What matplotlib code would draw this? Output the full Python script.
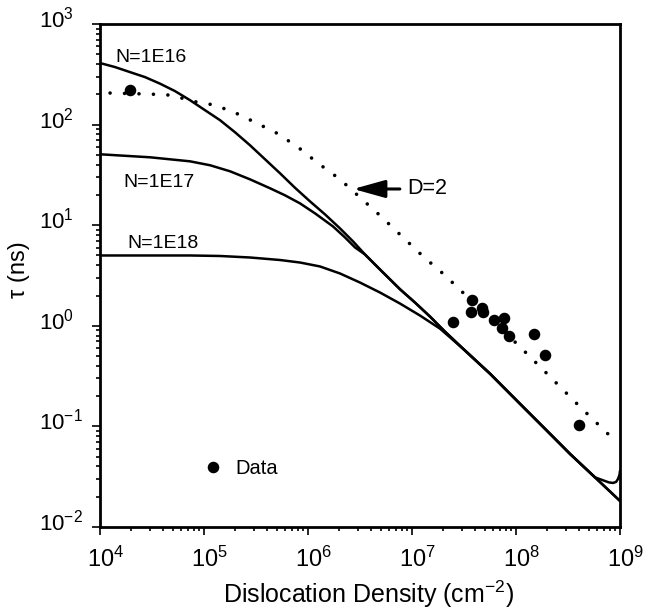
import matplotlib
matplotlib.use("Agg")
import numpy as np
import matplotlib.pyplot as plt
from matplotlib.ticker import LogLocator, NullFormatter

plt.rcParams["font.family"] = ["Liberation Sans", "DejaVu Sans"]
plt.rcParams["lines.scale_dashes"] = False

# Curves given as log10(dislocation density / cm^-2) and log10(tau / ns)
lrho_n16 = [4.000, 4.144, 4.288, 4.433, 4.577, 4.721, 4.865, 5.010, 5.154,
            5.298, 5.442, 5.587, 5.731, 5.875, 6.019, 6.163, 6.308, 6.433,
            6.548, 6.692, 6.885, 7.029, 7.173, 7.317, 7.490, 7.750, 8.038,
            8.279, 8.519, 8.760, 8.827, 8.894, 8.933, 8.962, 8.981, 8.995,
            9.000]
ltau_n16 = [2.612, 2.572, 2.522, 2.472, 2.407, 2.333, 2.243, 2.143, 2.044,
            1.924, 1.795, 1.655, 1.516, 1.372, 1.237, 1.108, 0.968, 0.839,
            0.709, 0.560, 0.363, 0.231, 0.092, -0.058, -0.227, -0.476, -0.775,
            -1.024, -1.273, -1.507, -1.532, -1.557, -1.562, -1.552, -1.522,
            -1.482, -1.442]

lrho_n17 = [4.000, 4.240, 4.481, 4.673, 4.865, 5.058, 5.250, 5.442, 5.635,
            5.779, 5.923, 6.067, 6.240, 6.356, 6.452, 6.548, 6.692, 6.885,
            7.029, 7.173, 7.317, 7.490, 7.750, 8.038, 8.279, 8.519, 8.760,
            9.000]
ltau_n17 = [1.705, 1.690, 1.675, 1.655, 1.635, 1.596, 1.536, 1.456, 1.367,
            1.297, 1.217, 1.118, 0.988, 0.878, 0.779, 0.709, 0.560, 0.363,
            0.231, 0.092, -0.058, -0.227, -0.476, -0.775, -1.024, -1.273,
            -1.507, -1.741]

lrho_n18 = [4.000, 4.288, 4.577, 4.865, 5.154, 5.442, 5.731, 5.923, 6.115,
            6.308, 6.500, 6.692, 6.885, 7.077, 7.269, 7.490, 7.750, 8.038,
            8.279, 8.519, 8.760, 9.000]
ltau_n18 = [0.699, 0.699, 0.699, 0.699, 0.694, 0.679, 0.654, 0.629, 0.590,
            0.520, 0.430, 0.331, 0.221, 0.102, -0.028, -0.227, -0.476, -0.775,
            -1.024, -1.273, -1.507, -1.741]

# Diffusion-limited curve, D = 2 (plotted in linear units)
rho_d2 = [1.25e4, 3.03e4, 4.92e4, 7.67e4, 1.28e5, 2.03e5, 3.24e5, 5.04e5, 8.02e5,
          1.25e6, 2.03e6, 3.16e6, 4.92e6, 8.02e6, 1.28e7, 2.03e7, 3.16e7, 1.04e8,
          2.03e8, 4.04e8, 7.83e8]
tau_d2 = [206, 201, 196, 171, 156, 130, 103, 82.0, 59.6,
          41.3, 28.6, 18.9, 12.5, 7.73, 4.89, 3.24, 2.09, 0.650,
          0.327, 0.160, 0.0824]

# Measured lifetimes
data_rho = [1.94e4, 2.46e7, 3.80e7, 3.66e7, 4.68e7, 4.85e7, 6.18e7, 7.62e7, 7.29e7,
            8.63e7, 1.50e8, 1.90e8, 4.01e8]
data_tau = [220, 1.10, 1.81, 1.38, 1.51, 1.36, 1.15, 1.19, 0.944,
            0.785, 0.822, 0.513, 0.103]

x_ticks = [1e4, 1e5, 1e6, 1e7, 1e8, 1e9]
x_ticklabels = ["4", "5", "6", "7", "8", "9"]
y_ticks = [1e-2, 1e-1, 1e0, 1e1, 1e2, 1e3]
y_ticklabels = ["-2", "-1", "0", "1", "2", "3"]
curve_labels = ["N=1E16", "N=1E17", "N=1E18"]

W, H = 645, 611
fig = plt.figure(figsize=(W / 100, H / 100), dpi=100)
ax = fig.add_axes([100 / W, 1 - 527 / H, 520 / W, 503 / H])

lw = 1.8
for lr, lt in [(lrho_n16, ltau_n16), (lrho_n17, ltau_n17), (lrho_n18, ltau_n18)]:
    ax.plot(np.power(10.0, lr), np.power(10.0, lt), color="black", lw=lw,
            solid_joinstyle="round", solid_capstyle="round")
ax.plot(rho_d2, tau_d2, color="black", lw=2.6, dashes=(0.01, 10.4),
        dash_capstyle="round")
pts, = ax.plot(data_rho, data_tau, "o", color="black", markersize=7.3,
               label="Data")

ax.set_xscale("log")
ax.set_yscale("log")
ax.set_xlim(1e4, 1e9)
ax.set_ylim(1e-2, 1e3)

ax.set_xticks(x_ticks)
ax.set_yticks(y_ticks)
ax.xaxis.set_minor_locator(LogLocator(base=10, subs=range(2, 10)))
ax.yaxis.set_minor_locator(LogLocator(base=10, subs=range(2, 10)))
ax.xaxis.set_minor_formatter(NullFormatter())
ax.yaxis.set_minor_formatter(NullFormatter())
ax.tick_params(which="both", direction="out", top=False, right=False,
               labelbottom=False, labelleft=False, width=1.2)
ax.tick_params(which="major", length=6)
ax.tick_params(which="minor", length=3)
for s in ax.spines.values():
    s.set_linewidth(2.0)

# Tick labels: "10" centred on the tick with the exponent trailing
fs_x = 17
for v, e in zip(x_ticks, x_ticklabels):
    ax.annotate(r"$\mathregular{10^{%s}}$" % e, xy=(v, 0),
                xycoords=("data", "axes fraction"),
                xytext=(-1.112 * fs_x / 2, -28.8), textcoords="offset points",
                ha="left", va="baseline", fontsize=fs_x, annotation_clip=False)
fs_y = 16
for v, e in zip(y_ticks, y_ticklabels):
    ax.annotate(r"$\mathregular{10^{%s}}$" % e, xy=(0, v),
                xycoords=("axes fraction", "data"),
                xytext=(-43.9, -2.5), textcoords="offset points",
                ha="left", va="baseline", fontsize=fs_y, annotation_clip=False)

fig.text(368 / W, 1 - 603 / H,
         r"Dislocation Density (cm$^{\mathregular{-2}}$)",
         ha="center", va="baseline", fontsize=18)
fig.text(19 / W, 1 - 270 / H, "τ (ns)", rotation=90, ha="center",
         va="center", fontsize=17)

for (x, y), lab in zip([(0.029, 0.934), (0.044, 0.684), (0.052, 0.563)],
                       curve_labels):
    ax.text(x, y, lab, transform=ax.transAxes, fontsize=14, va="center")

ax.annotate("D=2", xy=(0.487, 0.672), xycoords="axes fraction",
            xytext=(0.590, 0.672), textcoords="axes fraction",
            ha="left", va="center", fontsize=15.5,
            arrowprops=dict(arrowstyle="-|>,head_length=1.94,head_width=0.54",
                            lw=2.2, color="black", shrinkA=3, shrinkB=0,
                            mutation_scale=10))

ax.legend(handles=[pts], labels=["Data"], loc="center left",
          bbox_to_anchor=(0.198, 0.117), frameon=False, borderpad=0,
          borderaxespad=0, handlelength=1.0, handletextpad=0.61,
          prop={"family": ["Liberation Sans Narrow", "Liberation Sans"],
                "size": 14.5})

fig.savefig("out.png", dpi=100, facecolor="white")
